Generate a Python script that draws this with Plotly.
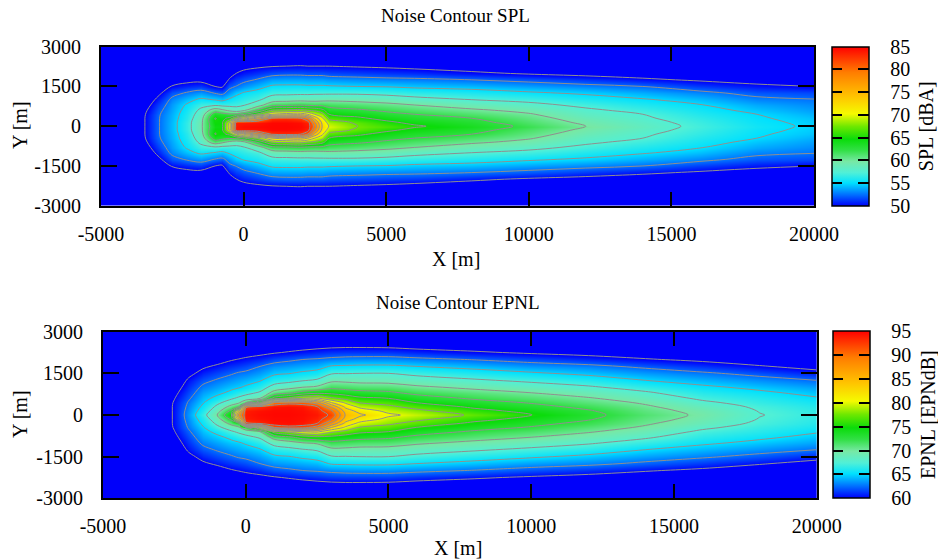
import numpy as np
import plotly.graph_objects as go

W, H = 938, 560
FONT = "Liberation Serif"

# ---------------- data ----------------
# lateral stations (half-width, metres) -- field is symmetric about y = 0
y_half = [0, 150, 300, 450, 600, 800, 1000, 1250, 1500, 1750, 2000, 2250, 2500, 3000]

# SPL [dBA]: x stations and the lateral profile at each station
spl_x = [-5000, -4000, -3500, -3000, -2500, -2000, -1500, -1000, -750, -500, -250, 0,
         500, 1000, 1500, 2000, 2250, 2500, 2750, 3000, 4000, 5000, 6000, 8000, 10000,
         12000, 14000, 16000, 18000, 20000]
spl_profiles = [
    [44, 44, 44, 44, 44, 44, 44, 44, 44, 44, 44, 44, 44, 44],
    [47, 47, 47, 46.9, 46.7, 46.3, 46.0, 45.5, 45.2, 45, 45, 45, 45, 45],
    [49.8, 49.8, 49.8, 49.7, 49.4, 48.8, 48.0, 47.0, 46.0, 45.3, 45, 45, 45, 45],
    [52.3, 52.3, 52.3, 52.2, 51.9, 51.3, 50.6, 49.4, 48.2, 47.0, 46.0, 45.2, 45, 45],
    [54.2, 54.2, 54.1, 54.0, 53.8, 53.5, 53.0, 51.8, 50.2, 48.8, 47.5, 46.2, 45.3, 45],
    [56.5, 56.5, 56.2, 56.0, 55.7, 55.2, 54.3, 52.7, 50.9, 49.2, 47.6, 46.1, 45.2, 45],
    [59.5, 59.4, 59.1, 58.6, 58.0, 56.8, 55.4, 53.4, 51.3, 49.3, 47.7, 46.2, 45.2, 45],
    [64.3, 64.8, 65.1, 63.8, 61.4, 57.1, 54.9, 52.4, 50.0, 48.4, 47.0, 45.8, 45.0, 45],
    [64.5, 64.7, 64.5, 63.3, 60.5, 56.8, 54.5, 52.0, 49.7, 48.0, 46.7, 45.6, 45.0, 45],
    [71.0, 70.0, 65.5, 62.8, 59.5, 56.8, 55.3, 53.3, 52.0, 50.3, 48.7, 47.2, 46.0, 45],
    [84.0, 83.8, 70.0, 63.2, 58.7, 56.9, 55.9, 54.5, 52.6, 51.3, 50.0, 48.6, 47.2, 45],
    [84.5, 84.0, 73.0, 64.6, 59.5, 57.3, 56.4, 55.2, 53.4, 51.9, 50.6, 49.3, 47.8, 45.5],
    [84.6, 84.2, 78.0, 68.0, 63.0, 58.9, 57.1, 55.8, 54.3, 52.7, 51.2, 49.7, 48.2, 45.5],
    [84.8, 84.7, 83.0, 72.5, 67.5, 61.7, 58.8, 56.8, 55.3, 53.6, 51.8, 50.0, 48.5, 45.5],
    [84.8, 84.7, 83.3, 73.5, 68.0, 62.0, 59.1, 56.9, 55.4, 53.7, 52.0, 50.1, 48.6, 45.5],
    [84.6, 84.4, 82.5, 74.0, 68.3, 62.3, 59.3, 57.0, 55.4, 53.7, 52.0, 50.2, 48.7, 45.6],
    [84.0, 83.5, 80.0, 72.5, 67.5, 62.1, 59.2, 57.0, 55.3, 53.6, 51.9, 50.1, 48.6, 45.6],
    [79.0, 77.5, 74.0, 70.0, 67.0, 61.9, 59.2, 57.1, 55.3, 53.6, 51.9, 50.1, 48.6, 45.6],
    [72.6, 72.0, 70.5, 68.6, 65.8, 62.0, 59.3, 57.1, 55.3, 53.6, 51.9, 50.1, 48.6, 45.6],
    [69.8, 68.8, 66.9, 65.0, 63.6, 61.6, 59.5, 57.1, 55.2, 53.4, 51.7, 50.1, 48.5, 45.6],
    [67.5, 67.0, 65.4, 64.2, 62.9, 61.1, 59.3, 57.1, 55.0, 53.2, 51.5, 49.9, 48.4, 45.5],
    [66.5, 65.4, 64.3, 63.2, 62.1, 60.6, 59.0, 56.8, 54.9, 53.0, 51.3, 49.7, 48.2, 45.5],
    [65.3, 64.4, 63.4, 62.5, 61.4, 60.0, 58.3, 56.4, 54.6, 52.9, 51.1, 49.4, 47.9, 45.4],
    [63.8, 63.2, 62.5, 61.4, 60.4, 58.9, 57.5, 55.9, 54.3, 52.5, 50.4, 48.8, 47.4, 45.3],
    [62.0, 61.4, 60.8, 60.2, 59.4, 58.1, 56.9, 55.3, 53.7, 51.9, 49.7, 48.2, 46.9, 45.2],
    [60.0, 59.5, 59.0, 58.4, 57.9, 57.0, 56.0, 54.7, 53.1, 51.2, 49.2, 47.8, 46.5, 45.1],
    [58.5, 58.2, 57.8, 57.5, 56.9, 56.0, 55.2, 53.9, 52.5, 50.4, 48.8, 47.4, 46.2, 45],
    [57.0, 56.8, 56.5, 56.1, 55.7, 55.1, 54.3, 53.0, 51.4, 49.7, 48.3, 47.0, 45.8, 45],
    [55.6, 55.4, 55.2, 55.0, 54.5, 53.8, 53.0, 51.9, 50.5, 49.1, 47.8, 46.6, 45.5, 45],
    [54.7, 54.6, 54.4, 54.0, 53.6, 53.1, 52.6, 51.6, 50.0, 48.6, 47.4, 46.3, 45.3, 45],
]

# EPNL [EPNdB]
epnl_x = [-5000, -4000, -3000, -2500, -2000, -1500, -1000, -500, -250, 0, 500, 1000,
          1500, 2000, 2500, 3000, 3500, 4000, 5000, 6000, 8000, 10000, 12000, 14000,
          16000, 18000, 20000]
epnl_profiles = [
    [54, 54, 54, 54, 54, 54, 54, 54, 54, 54, 54, 54, 54, 54],
    [56.5, 56.5, 56.5, 56.4, 56.2, 55.9, 55.6, 55.2, 55, 55, 55, 55, 55, 55],
    [58.2, 58.2, 58.2, 58.1, 57.9, 57.5, 57.0, 56.4, 55.8, 55.3, 55, 55, 55, 55],
    [60.3, 60.3, 60.3, 60.2, 59.9, 59.4, 58.8, 57.9, 57.0, 56.2, 55.5, 55, 55, 55],
    [63.5, 63.3, 63.0, 62.7, 62.2, 61.6, 61.1, 60.4, 59.3, 57.9, 56.7, 55.6, 55, 55],
    [66.6, 66.0, 65.4, 64.8, 64.3, 63.6, 62.9, 61.9, 60.8, 59.6, 58.0, 56.5, 55.5, 55],
    [70.0, 69.0, 68.0, 66.9, 65.6, 64.5, 63.7, 62.7, 61.6, 60.4, 58.9, 57.4, 56.2, 55],
    [75.0, 73.1, 70.8, 68.7, 67.2, 65.5, 64.5, 63.4, 62.3, 61.1, 59.8, 58.3, 56.9, 55],
    [88.0, 84.0, 72.5, 69.5, 67.9, 66.3, 64.8, 63.8, 62.7, 61.4, 60.1, 58.6, 57.2, 55],
    [94.0, 93.8, 92.0, 72.0, 68.6, 66.8, 65.3, 64.1, 62.9, 61.7, 60.4, 59.0, 57.6, 55.2],
    [94.5, 94.3, 93.0, 78.0, 70.0, 67.8, 66.4, 64.8, 63.6, 62.5, 60.9, 59.4, 58.0, 55.3],
    [94.7, 94.6, 94.2, 90.0, 76.0, 71.0, 68.4, 66.3, 64.6, 63.3, 61.7, 59.8, 58.4, 55.4],
    [94.7, 94.6, 94.4, 91.5, 78.0, 72.0, 69.2, 66.7, 64.9, 63.6, 62.1, 60.2, 58.6, 55.5],
    [94.5, 94.4, 94.0, 91.0, 80.0, 73.5, 70.0, 67.3, 65.4, 63.9, 62.5, 60.6, 58.9, 55.6],
    [94.0, 93.6, 92.5, 88.5, 80.5, 74.4, 70.4, 67.8, 65.8, 64.2, 62.7, 60.9, 59.2, 55.7],
    [92.0, 90.5, 87.0, 82.5, 78.0, 74.3, 71.9, 69.4, 67.3, 65.2, 63.0, 61.2, 59.4, 55.8],
    [84.7, 83.8, 81.8, 79.5, 76.8, 73.7, 71.6, 69.4, 67.4, 65.3, 63.2, 61.3, 59.5, 55.8],
    [83.0, 81.5, 79.3, 77.3, 75.5, 73.3, 71.3, 69.2, 67.5, 65.4, 63.3, 61.3, 59.5, 55.8],
    [80.5, 79.3, 78.0, 76.6, 75.0, 72.9, 71.2, 69.1, 67.5, 65.4, 63.3, 61.3, 59.4, 55.8],
    [79.3, 78.1, 76.6, 74.9, 73.6, 71.9, 70.4, 68.6, 66.9, 65.0, 63.0, 60.9, 59.1, 55.7],
    [77.1, 75.8, 74.5, 73.4, 72.2, 70.9, 69.5, 67.8, 66.1, 64.3, 62.4, 60.3, 58.7, 55.6],
    [75.1, 74.2, 73.2, 72.3, 71.3, 70.0, 68.7, 67.0, 65.3, 63.5, 61.7, 59.7, 58.1, 55.4],
    [73.1, 72.7, 71.9, 71.0, 70.2, 69.0, 67.8, 66.2, 64.5, 63.0, 61.0, 59.2, 57.6, 55.3],
    [71.2, 70.8, 70.3, 69.7, 68.9, 67.8, 66.6, 65.0, 63.6, 62.1, 60.2, 58.6, 57.1, 55.2],
    [69.6, 69.3, 68.7, 67.9, 67.1, 66.2, 65.4, 64.1, 62.8, 61.2, 59.5, 58.0, 56.7, 55.1],
    [67.6, 67.4, 67.1, 66.6, 66.2, 65.4, 64.5, 63.3, 61.9, 60.2, 58.6, 57.3, 56.2, 55],
    [66.5, 66.4, 66.1, 65.7, 65.2, 64.4, 63.7, 62.5, 60.8, 59.2, 58.0, 56.8, 55.8, 55],
]

spl_range = [50, 85]
epnl_range = [60, 95]
spl_ticks = [50, 55, 60, 65, 70, 75, 80, 85]
epnl_ticks = [60, 65, 70, 75, 80, 85, 90, 95]
x_ticks = [-5000, 0, 5000, 10000, 15000, 20000]
x_ticktext = ["-5000", "0", "5000", "10000", "15000", "20000"]
y_ticks = [-3000, -1500, 0, 1500, 3000]
y_ticktext = ["-3000", "-1500", "0", "1500", "3000"]

# ---------------- build symmetric grids ----------------
y_full = [-v for v in y_half[:0:-1]] + y_half


def full_grid(profiles):
    half = np.array(profiles, dtype=float).T          # rows = y_half, cols = x
    return np.vstack([half[:0:-1], half])


spl_z = full_grid(spl_profiles)
epnl_z = full_grid(epnl_profiles)

colorscale = [
    [0.00, "rgb(0,0,250)"],
    [0.07, "rgb(0,110,255)"],
    [0.145, "rgb(0,225,255)"],
    [0.21, "rgb(80,240,215)"],
    [0.28, "rgb(120,232,165)"],
    [0.35, "rgb(50,224,70)"],
    [0.42, "rgb(10,220,10)"],
    [0.50, "rgb(110,232,0)"],
    [0.58, "rgb(245,250,0)"],
    [0.69, "rgb(255,195,0)"],
    [0.84, "rgb(255,125,0)"],
    [0.95, "rgb(255,40,0)"],
    [1.00, "rgb(255,0,0)"],
]
clear = [[0, "rgba(0,0,0,0)"], [1, "rgba(0,0,0,0)"]]


def px_x(p):
    return p / W


def px_y(p):
    return 1 - p / H


fig = go.Figure()

panels = [
    dict(x=spl_x, z=spl_z, rng=spl_range, ticks=spl_ticks, xa="x", ya="y",
         dom_x=[101, 814], dom_y=[46.7, 205.7], cb_x=831.7, cb_w=36.6,
         title="Noise Contour SPL", title_y=15, xt_y=259, yt_y=125,
         cbt="SPL [dBA]", cbt_x=926),
    dict(x=epnl_x, z=epnl_z, rng=epnl_range, ticks=epnl_ticks, xa="x2", ya="y2",
         dom_x=[103, 816.7], dom_y=[331.7, 498.3], cb_x=832.7, cb_w=37.3,
         title="Noise Contour EPNL", title_y=302, xt_y=548, yt_y=414,
         cbt="EPNL [EPNdB]", cbt_x=928),
]

annotations = []
for p in panels:
    cb_len = (p["dom_y"][1] - p["dom_y"][0]) / H
    cb_y = px_y(p["dom_y"][1])
    base_cb = dict(x=px_x(p["cb_x"]), xanchor="left", xpad=0, ypad=0,
                   y=cb_y, yanchor="bottom", len=cb_len, lenmode="fraction")
    # colour field
    fig.add_trace(go.Heatmap(
        x=p["x"], y=y_full, z=p["z"], zsmooth="best", colorscale=colorscale,
        zmin=p["rng"][0], zmax=p["rng"][1], xaxis=p["xa"], yaxis=p["ya"],
        hoverinfo="skip",
        colorbar=dict(**base_cb, thickness=p["cb_w"], outlinewidth=1.5,
                      outlinecolor="black", tickvals=p["ticks"], ticks="outside",
                      ticklen=17, tickcolor="rgba(0,0,0,0)",
                      tickfont=dict(family=FONT, size=20, color="black")),
    ))
    # contour lines
    fig.add_trace(go.Contour(
        x=p["x"], y=y_full, z=p["z"], xaxis=p["xa"], yaxis=p["ya"],
        autocontour=False,
        contours=dict(coloring="none", start=p["rng"][0], end=p["rng"][1] - 2.5, size=2.5),
        line=dict(color="#8f8f8f", width=1.0, smoothing=1),
        showscale=False, hoverinfo="skip",
    ))
    inner = p["ticks"][1:-1]
    # right-edge tick dashes of the colour bar
    fig.add_trace(go.Heatmap(
        x=p["x"], y=y_full, z=p["z"], colorscale=clear, zmin=p["rng"][0],
        zmax=p["rng"][1], xaxis=p["xa"], yaxis=p["ya"], hoverinfo="skip",
        colorbar=dict(**base_cb, thickness=p["cb_w"], outlinewidth=0,
                      tickvals=inner, ticks="inside", ticklen=11, tickwidth=2,
                      tickcolor="black", showticklabels=False),
    ))
    # left-edge tick dashes of the colour bar
    fig.add_trace(go.Heatmap(
        x=p["x"], y=y_full, z=p["z"], colorscale=clear, zmin=p["rng"][0],
        zmax=p["rng"][1], xaxis=p["xa"], yaxis=p["ya"], hoverinfo="skip",
        colorbar=dict(**base_cb, thickness=10, outlinewidth=0,
                      tickvals=inner, ticks="inside", ticklen=10, tickwidth=2,
                      tickcolor="black", showticklabels=False),
    ))

    cx = px_x((p["dom_x"][0] + p["dom_x"][1]) / 2 - 2)
    annotations += [
        dict(text=p["title"], x=cx, y=px_y(p["title_y"]), font=dict(size=19)),
        dict(text="X [m]", x=cx, y=px_y(p["xt_y"]), font=dict(size=20)),
        dict(text="Y [m]", x=px_x(20), y=px_y(p["yt_y"]), textangle=-90, font=dict(size=20)),
        dict(text=p["cbt"], x=px_x(p["cbt_x"]), y=px_y((p["dom_y"][0] + p["dom_y"][1]) / 2),
             textangle=-90, font=dict(size=20)),
    ]

for a in annotations:
    a.update(xref="paper", yref="paper", showarrow=False, xanchor="center", yanchor="middle")
    a["font"].update(family=FONT, color="black")

axis_common = dict(showline=True, linewidth=2, linecolor="black", mirror="allticks",
                   ticks="inside", tickwidth=2, tickcolor="black", showgrid=False,
                   zeroline=False, tickfont=dict(family=FONT, size=20, color="black"))

fig.update_layout(
    width=W, height=H, margin=dict(l=0, r=0, t=0, b=0, autoexpand=False),
    paper_bgcolor="white", plot_bgcolor="white", showlegend=False,
    annotations=annotations,
    xaxis=dict(**axis_common, domain=[px_x(101), px_x(814)], range=[-5000, 20000],
               tickvals=x_ticks, ticktext=x_ticktext, ticklen=14, anchor="y",
               ticklabelstandoff=9),
    yaxis=dict(**axis_common, domain=[px_y(205.7), px_y(46.7)], range=[-3000, 3000],
               tickvals=y_ticks, ticktext=y_ticktext, ticklen=16, anchor="x",
               ticklabelstandoff=14),
    xaxis2=dict(**axis_common, domain=[px_x(103), px_x(816.7)], range=[-5000, 20000],
                tickvals=x_ticks, ticktext=x_ticktext, ticklen=14, anchor="y2",
                ticklabelstandoff=9),
    yaxis2=dict(**axis_common, domain=[px_y(498.3), px_y(331.7)], range=[-3000, 3000],
                tickvals=y_ticks, ticktext=y_ticktext, ticklen=16, anchor="x2",
                ticklabelstandoff=14),
)

# the page's default 8px body margin would shift the figure; remove it
fig.write_html("out.html", config={"displayModeBar": False},
               post_script="document.body.style.margin='0px';"
                           "document.body.style.overflow='hidden';")
